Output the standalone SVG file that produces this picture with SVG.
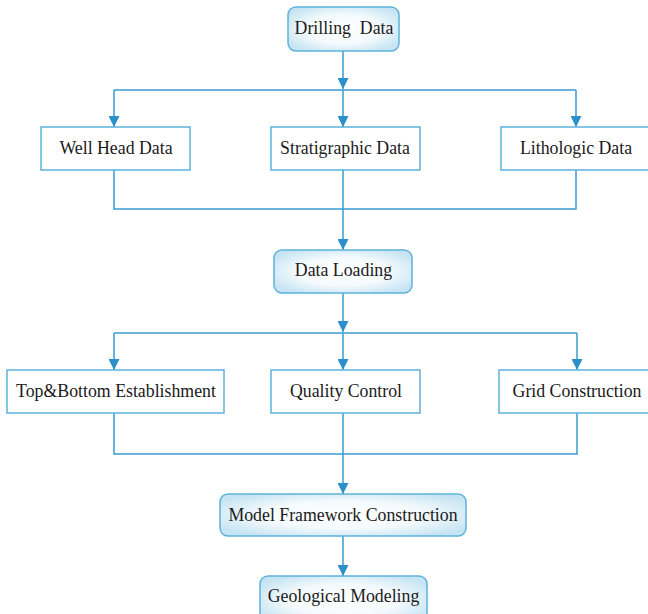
<svg xmlns="http://www.w3.org/2000/svg" width="648" height="614" viewBox="0 0 648 614">
<defs>
<radialGradient id="g" cx="50%" cy="50%" r="60%">
<stop offset="0" stop-color="#ffffff"/>
<stop offset="0.55" stop-color="#f4fafd"/>
<stop offset="1" stop-color="#c6e4f3"/>
</radialGradient>
<marker id="a" viewBox="0 0 10 10" refX="10" refY="5" markerWidth="11" markerHeight="11" markerUnits="userSpaceOnUse" orient="auto">
<path d="M0,0 L10,5 L0,10 Z" fill="#2b8fc9"/>
</marker>
<style>
.r{fill:url(#g);stroke:#5cb2dc;stroke-width:1.5}
.b{fill:#ffffff;stroke:#5cb2dc;stroke-width:1.5}
.t{font-family:"Liberation Serif","Times New Roman",serif;font-size:17.8px;fill:#1a1a1a;text-anchor:middle;white-space:pre}
.c{fill:none;stroke:#3a9bd2;stroke-width:1.5}
</style>
</defs>
<rect width="648" height="614" fill="#ffffff"/>
<g id="connectors">
<path class="c" d="M343,51 V89" marker-end="url(#a)"/>
<path class="c" d="M114,90 H576"/>
<path class="c" d="M114,90 V127" marker-end="url(#a)"/>
<path class="c" d="M343,90 V127" marker-end="url(#a)"/>
<path class="c" d="M576,90 V127" marker-end="url(#a)"/>
<path class="c" d="M114,170 V209 H576 V170"/>
<path class="c" d="M343,170 V250" marker-end="url(#a)"/>
<path class="c" d="M343,293 V332" marker-end="url(#a)"/>
<path class="c" d="M114,333 H577"/>
<path class="c" d="M114,333 V370" marker-end="url(#a)"/>
<path class="c" d="M343,333 V370" marker-end="url(#a)"/>
<path class="c" d="M577,333 V370" marker-end="url(#a)"/>
<path class="c" d="M114,413 V454 H577 V413"/>
<path class="c" d="M343,413 V494" marker-end="url(#a)"/>
<path class="c" d="M343,536 V576" marker-end="url(#a)"/>
</g>
<g id="drilling-data">
<rect class="r" x="288" y="7" width="111" height="44" rx="8"/>
<text class="t" x="344" y="34">Drilling  Data</text>
</g>
<g id="well-head-data">
<rect class="b" x="41" y="127" width="149" height="43"/>
<text class="t" x="116" y="154">Well Head Data</text>
</g>
<g id="stratigraphic-data">
<rect class="b" x="271" y="127" width="149" height="43"/>
<text class="t" x="345" y="154">Stratigraphic Data</text>
</g>
<g id="lithologic-data">
<rect class="b" x="501" y="127" width="150" height="43"/>
<text class="t" x="576" y="154">Lithologic Data</text>
</g>
<g id="data-loading">
<rect class="r" x="274" y="250" width="138" height="43" rx="8"/>
<text class="t" x="343.5" y="276">Data Loading</text>
</g>
<g id="top-bottom-establishment">
<rect class="b" x="7" y="370" width="217" height="43"/>
<text class="t" x="116" y="397">Top&amp;Bottom Establishment</text>
</g>
<g id="quality-control">
<rect class="b" x="271" y="370" width="149" height="43"/>
<text class="t" x="346" y="397">Quality Control</text>
</g>
<g id="grid-construction">
<rect class="b" x="499" y="370" width="152" height="43"/>
<text class="t" x="577" y="397">Grid Construction</text>
</g>
<g id="model-framework-construction">
<rect class="r" x="220" y="494" width="246" height="42" rx="8"/>
<text class="t" x="343" y="521">Model Framework Construction</text>
</g>
<g id="geological-modeling">
<rect class="r" x="260" y="576" width="167" height="48" rx="8"/>
<text class="t" x="343.5" y="602">Geological Modeling</text>
</g>
</svg>
